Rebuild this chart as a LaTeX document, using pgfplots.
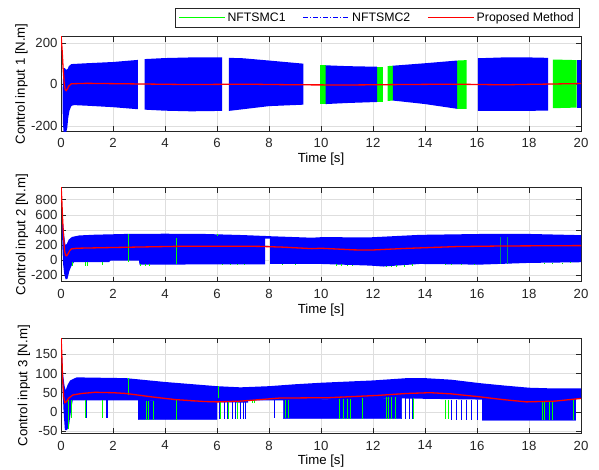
\documentclass[border=0pt]{standalone}
\usepackage{fontspec}
\setmainfont{Liberation Sans}
\usepackage{pgfplots}
\pgfplotsset{compat=1.18}

\definecolor{axgray}{rgb}{0.15,0.15,0.15}
\definecolor{gridgray}{rgb}{0.87,0.87,0.87}

\pgfplotsset{
  ctrl/.style={
    scale only axis, width=520bp, anchor=south west,
    xmin=0, xmax=20, xtick={0,2,...,20},
    axis line style={axgray, line width=0.5bp},
    tick align=inside, major tick length=5bp,
    tick style={axgray, line width=0.5bp},
    grid=major, major grid style={gridgray, line width=0.5bp},
    font=\fontsize{13.2bp}{15bp}\selectfont,
    tick label style={font=\fontsize{13.2bp}{15bp}\selectfont, color=axgray},
    label style={font=\fontsize{14.6bp}{16bp}\selectfont, color=axgray},
    xticklabel style={yshift=-4bp},
    every axis x label/.style={at={(axis description cs:0.5,0)}, anchor=center, yshift=-28bp},
    /pgf/number format/assume math mode=true,
    xlabel={Time [s]},
    unbounded coords=jump,
  },
  band/.style={fill=blue, draw=none, forget plot},
  gband/.style={fill=green, draw=none, forget plot},
  gline/.style={green, line width=1bp, forget plot},
  bline/.style={blue, line width=1bp, forget plot},
  prop/.style={red, line width=1.3bp, forget plot},
}

\begin{document}
\begin{tikzpicture}
\useasboundingbox (0,0) rectangle (599bp,-470bp);

% ---------------- control input 1 ----------------
\begin{axis}[ctrl, at={(61bp,-131bp)}, height=94.3bp,
  ymin=-225, ymax=230, ytick={-200,0,200},
  ylabel={Control input 1 [N.m]},
  every axis y label/.style={at={(axis description cs:-0.076,0.5)}, rotate=90, anchor=center},
  legend columns=3,
  legend style={at={(1,1)}, anchor=south east, xshift=-2bp, yshift=9.7bp,
    draw=axgray, font=\fontsize{12.3bp}{14bp}\selectfont,
    /tikz/every even column/.append style={column sep=15bp}},
]
\addlegendimage{legend image code/.code={\draw[draw=green, line width=1.5bp] (0bp,0bp) -- (46bp,0bp);}}
\addlegendimage{legend image code/.code={\draw[draw=blue, line width=1.5bp, dash pattern=on 5bp off 2bp on 1bp off 2bp] (0bp,0bp) -- (46bp,0bp);}}
\addlegendimage{legend image code/.code={\draw[draw=red, line width=1.5bp] (0bp,0bp) -- (46bp,0bp);}}
% NFTSMC1 where it is not covered
\addplot[gband] coordinates {(9.96,92) (10.18,92) (10.18,-95) (9.96,-95)};
\addplot[gband] coordinates {(12.17,85) (12.37,85) (12.37,-83) (12.17,-83)};
\addplot[gband] coordinates {(12.56,88) (12.76,90) (12.76,-78) (12.56,-80)};
\addplot[gband] coordinates {(15.24,115) (15.6,117) (15.6,-118) (15.24,-118)};
\addplot[gband] coordinates {(18.92,120) (19.83,117) (19.83,-112) (18.92,-115)};
% NFTSMC2 chattering band
\addplot[band] coordinates {(0.06,-40) (0.09,80) (0.15,78) (0.2,70) (0.26,75) (0.3,88) (0.4,98) (1,102) (2,108) (2.96,118)
  (2.96,-120) (2,-110) (1,-103) (0.5,-100) (0.4,-104) (0.33,-125) (0.28,-160) (0.24,-210) (0.2,-230) (0.1,-230) (0.07,-180)};
\addplot[band] coordinates {(3.22,122) (4,127) (5,130) (6.2,130) (6.2,-128) (5,-130) (4,-127) (3.22,-122)};
\addplot[band] coordinates {(6.46,128) (7,126) (8,115) (9.32,100) (9.32,-98) (8,-105) (7,-120) (6.46,-128)};
\addplot[band] coordinates {(10.18,92) (11,88) (12.16,85) (12.16,-85) (11,-90) (10.18,-95)};
\addplot[band] coordinates {(12.76,90) (14,102) (15.24,115) (15.24,-118) (14,-95) (12.76,-78)};
\addplot[band] coordinates {(16.03,126) (17,130) (18,130) (18.74,128) (18.74,-127) (17,-128) (16.03,-128)};
\addplot[band] coordinates {(19.83,117) (20,117) (20,-115) (19.83,-115)};
% proposed method
\addplot[prop] coordinates {(0,240) (0.04,170) (0.08,80) (0.12,10) (0.16,-25) (0.2,-30) (0.25,-22) (0.3,-8) (0.4,3) (1,5) (3,2) (5,-1) (7,1) (9,-2) (11,-3) (13,-1) (15,1) (17,-2) (19,2) (20,4)};
\legend{NFTSMC1, NFTSMC2, Proposed Method}
\end{axis}

% ---------------- control input 2 ----------------
\begin{axis}[ctrl, at={(61bp,-281.7bp)}, height=94bp,
  ymin=-290, ymax=960, ytick={-200,0,...,800},
  ylabel={Control input 2 [N.m]},
  every axis y label/.style={at={(axis description cs:-0.075,0.5)}, rotate=90, anchor=center},
]
\addplot[band] coordinates {(0.04,520) (0.08,480) (0.12,330) (0.17,200) (0.22,210) (0.3,270) (0.42,305) (0.7,325) (1.3,335) (2.5,345) (4,348) (5.5,345) (7,330) (7.85,318)
  (7.85,-60) (6,-60) (3.02,-63) (3.0,-10) (1.9,-10) (1.85,-31) (0.5,-31) (0.4,-80) (0.32,-150) (0.25,-250) (0.18,-260) (0.12,-180) (0.08,-50) (0.05,200)};
\addplot[band] coordinates {(7.85,318) (8.04,315) (8.04,284) (7.85,284)};
\addplot[band] coordinates {(8.04,315) (9.65,295) (10,302) (11.9,300) (13.8,333) (16.4,346) (18,345) (20,329)
  (20,-31) (18,-40) (16.1,-63) (13.8,-54) (12.4,-88) (11.9,-76) (10,-54) (9.65,-54) (8.04,-54)};
\addplot[gline] coordinates {(2.6,-31) (2.6,346) (2.6,nan) (4.45,-54) (4.45,289) (4.45,nan) (6.0,318) (6.0,343) (6.0,nan)
  (0.45,-31) (0.45,-85) (0.45,nan) (0.95,-31) (0.95,-80) (0.95,nan) (1.0,-31) (1.0,-75) (1.0,nan) (1.6,-31) (1.6,-70) (1.6,nan)
  (3.05,-60) (3.05,-80) (3.05,nan) (3.25,-60) (3.25,-75) (3.25,nan) (3.4,-60) (3.4,-80) (3.4,nan)
  (6.2,-58) (6.2,-72) (6.2,nan) (6.5,-58) (6.5,-70) (6.5,nan) (6.8,-58) (6.8,-72) (6.8,nan) (7.05,-58) (7.05,-68) (7.05,nan)
  (8.5,-52) (8.5,-65) (8.5,nan) (9.0,-52) (9.0,-62) (9.0,nan)
  (10.6,-58) (10.6,-75) (10.6,nan) (10.8,-60) (10.8,-78) (10.8,nan) (11.0,-62) (11.0,-80) (11.0,nan) (11.2,-65) (11.2,-82) (11.2,nan)
  (12.5,-80) (12.5,-100) (12.5,nan) (12.7,-75) (12.7,-98) (12.7,nan) (12.9,-70) (12.9,-95) (12.9,nan) (13.2,-62) (13.2,-92) (13.2,nan) (13.5,-56) (13.5,-85) (13.5,nan)
  (14.8,-50) (14.8,-70) (14.8,nan) (15.0,-52) (15.0,-68) (15.0,nan) (15.4,-55) (15.4,-70) (15.4,nan) (15.9,-60) (15.9,-70) (15.9,nan)
  (18.6,-38) (18.6,-48) (18.6,nan) (18.9,-37) (18.9,-47) (18.9,nan) (19.3,-35) (19.3,-45) (19.3,nan) (19.6,-33) (19.6,-42)};
\addplot[green!55!blue, line width=0.6bp, forget plot] coordinates {(16.9,-50) (16.9,310) (16.9,nan) (17.15,-50) (17.15,310)};
\addplot[prop] coordinates {(0,1000) (0.03,800) (0.06,550) (0.1,300) (0.14,120) (0.18,60) (0.22,55) (0.27,80) (0.33,120) (0.4,146) (0.6,155) (1,158) (2.5,168) (4.4,180) (6,182) (7.6,180) (8.5,170) (9.65,150) (10,155) (11.3,133) (12,132) (13.2,152) (15.2,177) (17,185) (20,190)};
\end{axis}

% ---------------- control input 3 ----------------
\begin{axis}[ctrl, at={(61bp,-433.3bp)}, height=95bp,
  ymin=-56, ymax=192, ytick={-50,0,...,150},
  ylabel={Control input 3 [N.m]},
  every axis y label/.style={at={(axis description cs:-0.071,0.5)}, rotate=90, anchor=center},
]
% upper part of the band
\addplot[band] coordinates {(0.04,150) (0.08,100) (0.13,70) (0.18,56) (0.25,70) (0.35,82) (0.6,90) (2.5,88) (4,78) (6,67) (6.9,64) (8,67) (9,72) (10,76) (12,82) (13.3,88) (14,88) (15,84) (16.1,75) (17,69) (18,63) (19,61) (20,61)
  (20,34) (16.2,32) (13.1,35) (8.55,30) (7.2,30) (7.2,24) (6.0,25) (2.97,30) (0.45,30) (0.4,10) (0.3,-40) (0.22,-48) (0.15,-48) (0.1,0) (0.06,60)};
% solid lower parts of the band
\addplot[fill=blue, draw=blue, line width=0.3bp, forget plot] coordinates {(2.97,31) (6.0,26) (6.0,-20) (2.97,-20) (2.97,31)};
\addplot[fill=blue, draw=blue, line width=0.3bp, forget plot] coordinates {(8.55,31) (13.1,36) (13.1,-18) (8.55,-18) (8.55,31)};
\addplot[fill=blue, draw=blue, line width=0.3bp, forget plot] coordinates {(16.2,33) (19.8,35) (19.8,-22) (16.2,-22) (16.2,33)};
\addplot[bline] coordinates {(0.98,30) (0.98,-15) (0.98,nan) (1.75,30) (1.75,-15) (1.75,nan) (1.8,30) (1.8,-15) (1.8,nan)
  (6.1,25) (6.1,-18) (6.1,nan) (6.3,25) (6.3,-18) (6.3,nan) (6.4,25) (6.4,-18) (6.4,nan) (6.6,25) (6.6,-18) (6.6,nan) (6.7,25) (6.7,-18) (6.7,nan)
  (6.9,25) (6.9,-18) (6.9,nan) (7.0,25) (7.0,-18) (7.0,nan) (7.1,25) (7.1,-18) (7.1,nan) (8.2,30) (8.2,-15) (8.2,nan)
  (13.25,35) (13.25,-18) (13.25,nan) (13.4,35) (13.4,-18) (13.4,nan) (13.5,35) (13.5,-18) (13.5,nan)
  (15.0,32) (15.0,-20) (15.0,nan) (15.2,32) (15.2,-20) (15.2,nan) (15.4,32) (15.4,-20) (15.4,nan) (15.6,32) (15.6,-20) (15.6,nan) (15.8,32) (15.8,-20) (15.8,nan) (16.0,32) (16.0,-20)};
\addplot[gline] coordinates {(0.28,30) (0.28,-45) (0.28,nan) (0.41,30) (0.41,-15) (0.41,nan) (0.93,30) (0.93,-15) (0.93,nan) (1.6,30) (1.6,-15) (1.6,nan)
  (2.6,45) (2.6,88) (2.6,nan) (6.05,35) (6.05,67) (6.05,nan)
  (3.3,28) (3.3,-20) (3.3,nan) (3.38,28) (3.38,-20) (3.38,nan) (3.55,28) (3.55,-20) (3.55,nan) (4.45,30) (4.45,-20) (4.45,nan)
  (6.15,25) (6.15,-18) (6.15,nan) (6.45,25) (6.45,-18) (6.45,nan) (6.8,25) (6.8,-18) (6.8,nan) (7.35,30) (7.35,22) (7.35,nan) (7.45,30) (7.45,22) (7.45,nan)
  (8.65,30) (8.65,-15) (8.65,nan) (8.75,30) (8.75,-15) (8.75,nan)
  (10.7,34) (10.7,-18) (10.7,nan) (10.85,34) (10.85,-18) (10.85,nan) (11.0,34) (11.0,-18) (11.0,nan) (11.15,34) (11.15,-18) (11.15,nan) (11.6,36) (11.6,-18) (11.6,nan)
  (12.5,38) (12.5,-18) (12.5,nan) (12.6,38) (12.6,-18) (12.6,nan) (12.7,38) (12.7,-18) (12.7,nan) (12.85,38) (12.85,-18) (12.85,nan)
  (13.55,35) (13.55,-18) (13.55,nan) (14.8,32) (14.8,-18) (14.8,nan) (14.9,32) (14.9,-18) (14.9,nan)
  (18.5,28) (18.5,-20) (18.5,nan) (18.6,28) (18.6,-20) (18.6,nan) (18.8,28) (18.8,-20) (18.8,nan) (18.9,28) (18.9,-20) (18.9,nan) (19.7,32) (19.7,-20)};
\addplot[prop] coordinates {(0,200) (0.03,150) (0.06,90) (0.1,40) (0.15,24) (0.2,26) (0.3,36) (0.45,44) (0.8,48) (1.3,51) (2,50) (2.5,48) (3.5,39) (4.4,32) (5.5,27) (6,26) (6.9,28) (8.4,36) (10.3,37) (12.2,43) (13.3,48) (14.2,50) (15,47) (16,40) (17,32) (17.9,26) (19,28) (20,35)};
\end{axis}
\end{tikzpicture}
\end{document}
